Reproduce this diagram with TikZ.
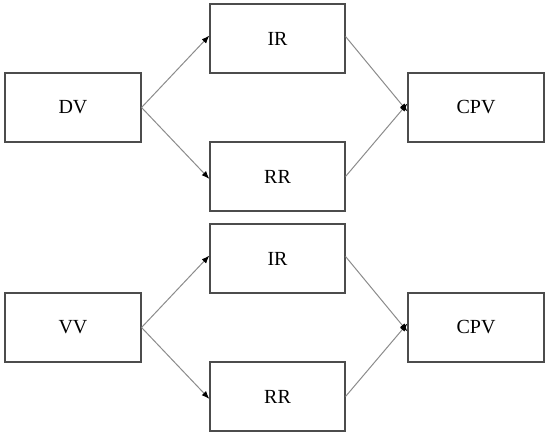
\documentclass[tikz,border=0pt]{standalone}
\usepackage{fontspec}
\setmainfont{Liberation Serif}
\usetikzlibrary{arrows.meta}
\begin{document}
\begin{tikzpicture}[x=1pt,y=-1pt,
  box/.style={draw=black!70,line width=1.1pt,minimum width=136pt,minimum height=69pt,inner sep=0pt,font=\fontsize{20}{24}\selectfont},
  conn/.style={draw=black!45,line width=1pt,-{Latex[color=black,length=8pt,width=6pt]}}]
\useasboundingbox (0,0) rectangle (550,436);
\fill[white] (0,0) rectangle (550,436);
% top
\node[box] (DV) at (73,107.5) {DV};
\node[box,minimum width=135pt] (IR1) at (277.5,38.5) {IR};
\node[box,minimum width=135pt] (RR1) at (277.5,176.5) {RR};
\node[box] (CPV1) at (476,107.5) {CPV};
% bottom
\node[box] (VV) at (73,327.5) {VV};
\node[box,minimum width=135pt] (IR2) at (277.5,258.5) {IR};
\node[box,minimum width=135pt] (RR2) at (277.5,396.5) {RR};
\node[box] (CPV2) at (476,327.5) {CPV};
% connectors
\draw[conn] (DV.east) -- ([yshift=3pt]IR1.west);
\draw[conn] (DV.east) -- ([yshift=-2.5pt]RR1.west);
\draw[conn] ([yshift=2pt]IR1.east) -- ([yshift=-4pt]CPV1.west);
\draw[conn] (RR1.east) -- ([yshift=4pt]CPV1.west);
\draw[conn] (VV.east) -- ([yshift=3pt]IR2.west);
\draw[conn] (VV.east) -- ([yshift=-2.5pt]RR2.west);
\draw[conn] ([yshift=2pt]IR2.east) -- ([yshift=-4pt]CPV2.west);
\draw[conn] (RR2.east) -- ([yshift=4pt]CPV2.west);
\end{tikzpicture}
\end{document}
